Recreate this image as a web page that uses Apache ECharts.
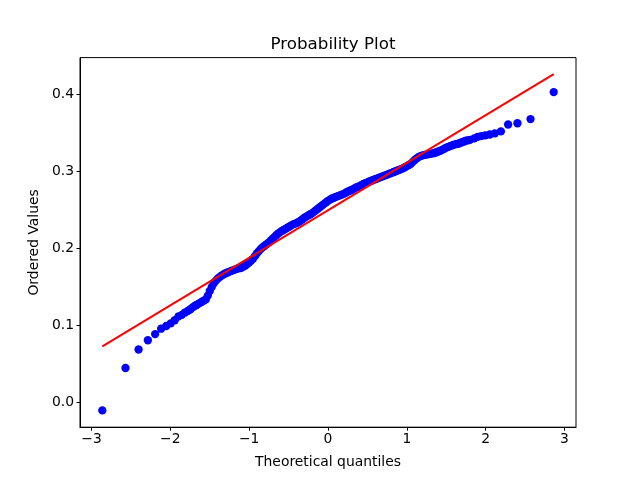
<!DOCTYPE html>
<html><head><meta charset="utf-8">
<script src="https://cdn.jsdelivr.net/npm/echarts@6/dist/echarts.min.js"></script>
<style>html,body{margin:0;padding:0;background:#fff}#c{width:640px;height:480px}</style>
</head><body><div id="c"></div>
<script>
const title = "Probability Plot";
const xName = "Theoretical quantiles";
const yName = "Ordered Values";
const xTicks = [-3, -2, -1, 0, 1, 2, 3];
const yTicks = [0.0, 0.1, 0.2, 0.3, 0.4];
// theoretical quantiles (x) and ordered values (y)
const qx = [-2.863,-2.569,-2.403,-2.285,-2.193,-2.117,-2.052,-1.995,-1.944,-1.897,-1.855,-1.815,-1.78,
 -1.75,-1.725,-1.70,-1.675,-1.65,-1.625,-1.60,-1.575,-1.55,-1.525,-1.50,-1.475,-1.45,-1.425,-1.40,-1.375,
 -1.35,-1.325,-1.30,-1.275,-1.25,-1.225,-1.20,-1.175,-1.15,-1.125,-1.10,-1.075,-1.05,-1.025,-1.00,-0.975,
 -0.95,-0.925,-0.90,-0.875,-0.85,-0.825,-0.80,-0.775,-0.75,-0.725,-0.70,-0.675,-0.65,-0.625,-0.60,-0.575,
 -0.55,-0.525,-0.50,-0.475,-0.45,-0.425,-0.40,-0.375,-0.35,-0.325,-0.30,-0.275,-0.25,-0.225,-0.20,-0.175,
 -0.15,-0.125,-0.10,-0.075,-0.05,-0.025,0.00,0.025,0.05,0.075,0.10,0.125,0.15,0.175,0.20,0.225,
 0.25,0.275,0.30,0.325,0.35,0.375,0.40,0.425,0.45,0.475,0.50,0.525,0.55,0.575,0.60,0.625,
 0.65,0.675,0.70,0.725,0.75,0.775,0.80,0.825,0.85,0.875,0.90,0.925,0.95,0.975,1.00,1.025,
 1.05,1.075,1.10,1.125,1.15,1.175,1.20,1.225,1.25,1.275,1.30,1.325,1.35,1.375,1.40,1.425,
 1.45,1.475,1.50,1.525,1.55,1.575,1.60,1.625,1.65,1.675,1.70,1.725,1.75,1.775,1.80,
 1.855,1.897,1.944,1.995,2.052,2.117,2.193,2.285,2.403,2.569,2.863];
const qy = [-0.010,0.045,0.069,0.081,0.089,0.096,0.0995,0.103,0.107,0.112,0.114,0.117,0.119,
 0.121,0.123,0.125,0.1265,0.128,0.1295,0.131,0.1325,0.134,0.139,0.145,0.150,0.155,0.158,0.161,0.163,
 0.165,0.1665,0.168,0.169,0.170,0.171,0.172,0.173,0.174,0.1745,0.175,0.1765,0.178,0.180,0.182,0.1845,
 0.187,0.1905,0.194,0.197,0.200,0.202,0.204,0.206,0.208,0.2105,0.213,0.2155,0.218,0.220,0.222,0.2235,
 0.225,0.2265,0.228,0.2295,0.231,0.232,0.233,0.2345,0.236,0.238,0.240,0.2415,0.243,0.2445,0.246,0.248,
 0.250,0.252,0.254,0.256,0.258,0.260,0.262,0.2635,0.265,0.266,0.267,0.268,0.269,0.270,0.271,0.2725,
 0.274,0.275,0.276,0.2775,0.279,0.280,0.281,0.2825,0.284,0.285,0.286,0.287,0.288,0.289,0.290,0.291,
 0.292,0.293,0.294,0.295,0.296,0.297,0.298,0.299,0.300,0.301,0.302,0.303,0.304,0.3055,0.307,0.3085,
 0.310,0.3125,0.315,0.317,0.319,0.320,0.321,0.3215,0.322,0.3225,0.323,0.3235,0.324,0.325,0.326,0.327,
 0.328,0.3295,0.331,0.332,0.333,0.334,0.335,0.3355,0.336,0.337,0.338,0.339,0.340,0.3405,0.341,
 0.343,0.345,0.346,0.347,0.348,0.3496,0.352,0.361,0.3626,0.368,0.403];
// least-squares fit line end points
const fitX = [-2.863, 2.863];
const fitY = [0.0730, 0.4264];

const pts = qx.map((x, i) => [x, qy[i]]);
const fit = fitX.map((x, i) => [x, fitY[i]]);
const minus = s => String(s).replace('-', '\u2212');
const font = 'DejaVu Sans';

const chart = echarts.init(document.getElementById('c'), null, {renderer: 'canvas'});
chart.setOption({
  animation: false,
  backgroundColor: '#fff',
  title: {text: title, left: 328, top: 31, textAlign: 'center',
    textStyle: {fontFamily: font, fontSize: 16.7, fontWeight: 'normal', color: '#000'}},
  grid: {left: 80, right: 64, top: 57.6, bottom: 52.8, show: true, borderColor: '#000', borderWidth: 1, backgroundColor: 'transparent'},
  xAxis: {
    type: 'value', min: -3.146, max: 3.146,
    name: xName, nameLocation: 'middle', nameGap: 28,
    nameTextStyle: {fontFamily: font, fontSize: 13.9, color: '#000'},
    splitLine: {show: false},
    axisLine: {show: true, onZero: false, lineStyle: {color: '#000', width: 1}},
    axisTick: {show: true, length: 3.5, customValues: xTicks, lineStyle: {color: '#000'}},
    axisLabel: {customValues: xTicks, margin: 5, fontFamily: font, fontSize: 13.9, color: '#000',
      formatter: v => minus(Math.round(v))}
  },
  yAxis: {
    type: 'value', min: -0.0318, max: 0.4478,
    name: yName, nameLocation: 'middle', nameGap: 38, nameRotate: 90,
    nameTextStyle: {fontFamily: font, fontSize: 13.9, color: '#000'},
    splitLine: {show: false},
    axisLine: {show: true, onZero: false, lineStyle: {color: '#000', width: 1}},
    axisTick: {show: true, length: 3.5, customValues: yTicks, lineStyle: {color: '#000'}},
    axisLabel: {customValues: yTicks, margin: 6, fontFamily: font, fontSize: 13.9, color: '#000',
      formatter: v => minus(v.toFixed(1))}
  },
  series: [
    {type: 'scatter', data: pts, symbol: 'circle', symbolSize: 8.3,
      itemStyle: {color: '#0000ff', opacity: 1}, z: 2, silent: true},
    {type: 'line', data: fit, symbol: 'none', lineStyle: {color: '#ff0000', width: 2}, z: 3, silent: true}
  ]
});
</script></body></html>
